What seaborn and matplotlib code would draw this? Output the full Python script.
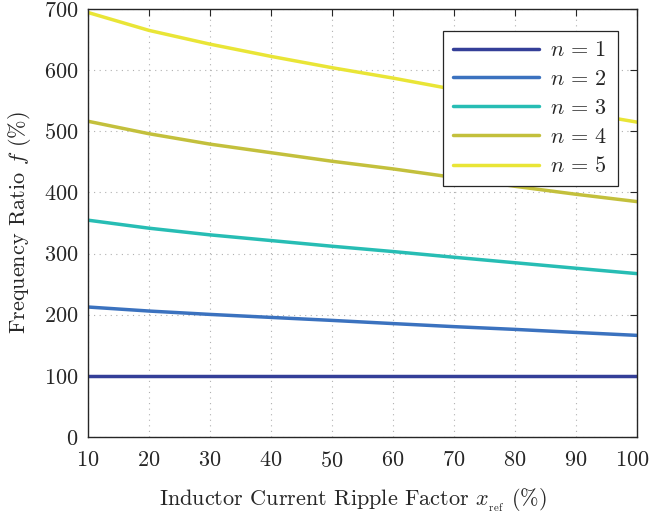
import numpy as np
import pandas as pd
import matplotlib
matplotlib.use("Agg")
import matplotlib.pyplot as plt
import matplotlib.transforms as mtransforms
import seaborn as sns

# Inductor current ripple factor x_ref (%)
x_ref = [10, 20, 30, 40, 50, 60, 70, 80, 90, 100]

# Frequency ratio f (%) for each number of phases n
f_n1 = [100, 100, 100, 100, 100, 100, 100, 100, 100, 100]
f_n2 = [212.6, 206, 200.5, 195.6, 190.7, 185.5, 180.5, 176, 171, 166.2]
f_n3 = [354.6, 341.5, 330.6, 321.3, 312, 303.3, 294, 285, 276, 267.2]
f_n4 = [516.4, 496, 479, 465, 451, 438.5, 424.5, 410, 397, 385]
f_n5 = [694.3, 665, 642.5, 622.5, 604, 587, 568.5, 550, 532, 515]

series = {1: f_n1, 2: f_n2, 3: f_n3, 4: f_n4, 5: f_n5}
colors = ["#343f98", "#3b72bf", "#27bdb4", "#c3c03c", "#e9e536"]

df = pd.DataFrame(
    [(x, v, n) for n, vals in series.items() for x, v in zip(x_ref, vals)],
    columns=["x", "f", "n"],
)

sns.set_style("white")
plt.rcParams.update({
    "font.family": "serif",
    "font.serif": ["cmr10", "DejaVu Serif"],
    "mathtext.fontset": "cm",
    "axes.unicode_minus": False,
    "axes.formatter.use_mathtext": True,
})

fig = plt.figure(figsize=(6.49, 5.17), dpi=100)
ax = fig.add_axes([88 / 649, 80 / 517, 549 / 649, 428 / 517])

sns.lineplot(data=df, x="x", y="f", hue="n", palette=colors,
             linewidth=2.5, ax=ax, legend=False)

ax.set_xlim(10, 100)
ax.set_ylim(0, 700)
ax.set_xticks(np.arange(10, 101, 10))
ax.set_yticks(np.arange(0, 701, 100))
ax.tick_params(direction="in", length=5, width=0.8, top=True, right=True,
               labelsize=16, colors="#262626")
ax.tick_params(axis="x", pad=10)
ax.tick_params(axis="y", pad=7)
for sp in ax.spines.values():
    sp.set_color("#262626")
    sp.set_linewidth(1.0)
ax.grid(True, linestyle=(0, (1, 4)), color="#b0b0b0", linewidth=0.8)

# nudge the last x tick label so it stays inside the figure
fig.canvas.draw()
last = ax.get_xticklabels()[-1]
last.set_transform(last.get_transform() +
                   mtransforms.ScaledTranslation(-5 / 100, 0, fig.dpi_scale_trans))

ax.set_xlabel(r"Inductor Current Ripple Factor $x_{_{\rm ref}}$ (%)",
              fontsize=16, color="#262626", labelpad=11)
ax.xaxis.set_label_coords(0.482, -0.115)
ax.set_ylabel(r"Frequency Ratio $f$ (%)", fontsize=16, color="#262626",
              labelpad=8)

handles = ax.get_lines()[:5]
leg = ax.legend(handles, [rf"$n\,=\,{n}$" for n in series],
                loc="upper right", bbox_to_anchor=(0.965, 0.949),
                borderaxespad=0, fontsize=16, handlelength=3.9,
                fancybox=False, framealpha=1, edgecolor="#262626",
                labelspacing=0.42, borderpad=0.45, handletextpad=0.5)
leg.get_frame().set_linewidth(0.9)

fig.savefig("out.png", dpi=100)
